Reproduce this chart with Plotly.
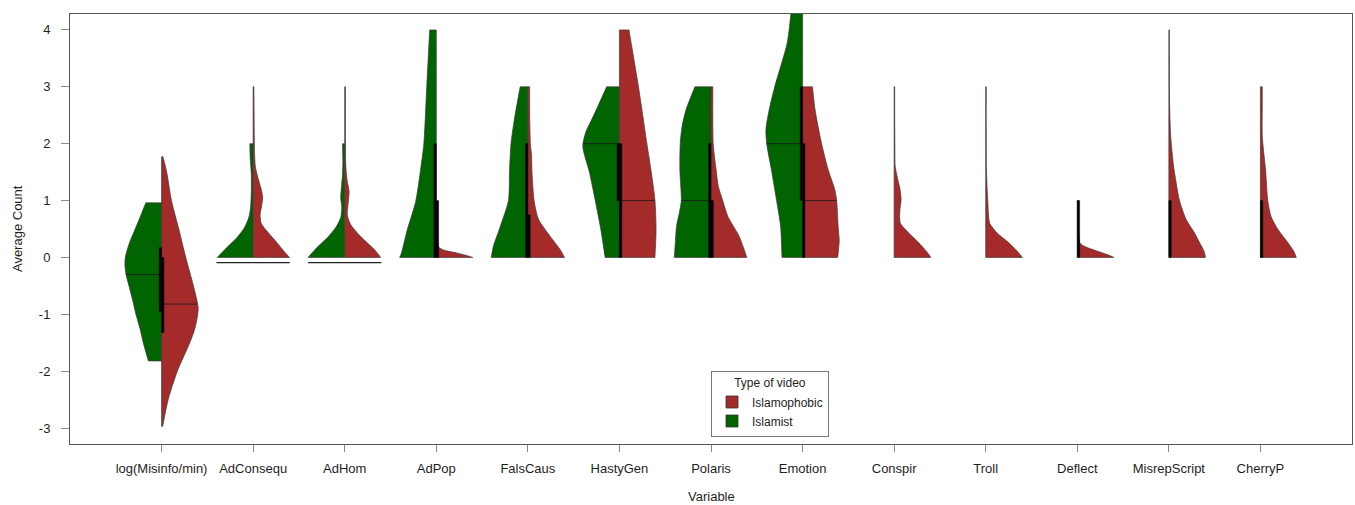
import plotly.graph_objects as go

# ---------------- data ----------------
categories = ["log(Misinfo/min)", "AdConsequ", "AdHom", "AdPop", "FalsCaus", "HastyGen",
              "Polaris", "Emotion", "Conspir", "Troll", "Deflect", "MisrepScript", "CherryP"]

# density profiles (value level, relative half-width) for the Islamist group (left halves)
islamist_levels = {
    "log(Misinfo/min)": [-1.82, -1.5, -1.25, -1.0, -0.75, -0.5, -0.3, -0.15, 0.0, 0.25, 0.5, 0.75, 0.96],
    "AdConsequ": [0, 0.18, 0.35, 0.52, 0.7, 0.88, 1.16, 1.46, 1.75, 2.0],
    "AdHom": [0, 0.18, 0.35, 0.52, 0.7, 0.88, 1.05, 1.23, 1.46, 1.69, 2.0],
    "AdPop": [0, 0.08, 0.49, 0.99, 1.54, 2.0, 3.0, 4.0],
    "FalsCaus": [0, 0.2, 0.55, 1.0, 1.54, 2.0, 2.42, 3.0],
    "HastyGen": [0, 0.5, 1.0, 1.5, 1.95, 2.2, 2.5, 3.0],
    "Polaris": [0, 0.3, 0.55, 0.8, 1.0, 1.3, 1.54, 2.0, 2.3, 2.6, 3.0],
    "Emotion": [0, 0.55, 1.0, 1.54, 2.0, 2.25, 2.6, 3.0, 3.77, 4.28, 4.5],
}
islamist_widths = {
    "log(Misinfo/min)": [0.36, 0.50, 0.59, 0.70, 0.79, 0.89, 0.97, 1.0, 0.99, 0.88, 0.72, 0.56, 0.43],
    "AdConsequ": [0.98, 0.71, 0.44, 0.24, 0.12, 0.07, 0.05, 0.05, 0.08, 0.09],
    "AdHom": [1.0, 0.75, 0.47, 0.25, 0.11, 0.08, 0.11, 0.09, 0.06, 0.05, 0.06],
    "AdPop": [1.0, 0.95, 0.79, 0.56, 0.43, 0.34, 0.26, 0.18],
    "FalsCaus": [1.0, 0.94, 0.75, 0.53, 0.50, 0.46, 0.37, 0.21],
    "HastyGen": [0.39, 0.51, 0.66, 0.82, 1.0, 0.92, 0.70, 0.35],
    "Polaris": [1.0, 0.97, 0.94, 0.86, 0.81, 0.83, 0.85, 0.84, 0.79, 0.68, 0.44],
    "Emotion": [0.56, 0.60, 0.71, 0.85, 0.98, 1.0, 0.91, 0.76, 0.42, 0.32, 0.29],
}

# density profiles for the Islamophobic group (right halves)
islamophobic_levels = {
    "log(Misinfo/min)": [-2.97, -2.5, -2.0, -1.5, -1.25, -0.9, -0.5, 0.0, 0.5, 1.0, 1.5, 1.77],
    "AdConsequ": [0, 0.11, 0.29, 0.46, 0.6, 0.75, 0.9, 1.05, 1.2, 1.4, 1.6, 1.8, 2.2, 2.6, 3.0],
    "AdHom": [0, 0.11, 0.23, 0.4, 0.58, 0.75, 0.99, 1.16, 1.34, 1.6, 2.0, 2.5, 3.0],
    "AdPop": [0, 0.04, 0.08, 0.13, 0.18, 0.3, 0.6, 1.0],
    "FalsCaus": [0, 0.14, 0.37, 0.67, 1.0, 1.54, 1.8, 2.0, 2.5, 3.0],
    "HastyGen": [0, 0.49, 1.0, 1.54, 2.0, 3.0, 4.0],
    "Polaris": [0, 0.37, 0.72, 1.0, 1.25, 1.54, 2.0, 3.0],
    "Emotion": [0, 0.3, 0.55, 1.0, 1.19, 1.54, 2.0, 2.6, 3.0],
    "Conspir": [0, 0.11, 0.26, 0.43, 0.6, 0.72, 0.85, 1.02, 1.2, 1.37, 1.6, 2.0, 2.5, 3.0],
    "Troll": [0, 0.11, 0.26, 0.43, 0.6, 0.8, 0.96, 1.19, 1.54, 2.0, 3.0],
    "Deflect": [0, 0.05, 0.11, 0.2, 0.26, 0.4, 0.6, 0.8, 1.0],
    "MisrepScript": [0, 0.11, 0.26, 0.43, 0.67, 1.0, 1.31, 1.6, 2.13, 2.72, 3.3, 4.0],
    "CherryP": [0, 0.11, 0.26, 0.5, 0.72, 1.0, 1.54, 2.13, 2.6, 3.0],
}
islamophobic_widths = {
    "log(Misinfo/min)": [0.03, 0.18, 0.43, 0.77, 0.91, 1.0, 0.87, 0.66, 0.47, 0.27, 0.14, 0.04],
    "AdConsequ": [0.99, 0.84, 0.61, 0.38, 0.22, 0.19, 0.23, 0.26, 0.22, 0.13, 0.06, 0.04, 0.03, 0.025, 0.02],
    "AdHom": [0.98, 0.85, 0.66, 0.39, 0.16, 0.07, 0.10, 0.12, 0.07, 0.03, 0.02, 0.02, 0.02],
    "AdPop": [1.0, 0.8, 0.55, 0.2, 0.07, 0.04, 0.03, 0.02],
    "FalsCaus": [1.0, 0.88, 0.61, 0.29, 0.17, 0.11, 0.10, 0.07, 0.05, 0.05],
    "HastyGen": [0.97, 1.0, 0.97, 0.86, 0.75, 0.52, 0.26],
    "Polaris": [0.98, 0.77, 0.46, 0.32, 0.20, 0.14, 0.06, 0.05],
    "Emotion": [0.96, 1.0, 0.97, 0.93, 0.88, 0.70, 0.52, 0.34, 0.27],
    "Conspir": [1.0, 0.88, 0.67, 0.40, 0.17, 0.15, 0.16, 0.19, 0.16, 0.10, 0.03, 0.02, 0.015, 0.015],
    "Troll": [1.0, 0.86, 0.63, 0.31, 0.11, 0.07, 0.06, 0.04, 0.02, 0.015, 0.015],
    "Deflect": [1.0, 0.82, 0.55, 0.18, 0.07, 0.04, 0.03, 0.03, 0.03],
    "MisrepScript": [1.0, 0.96, 0.84, 0.70, 0.47, 0.29, 0.20, 0.13, 0.05, 0.02, 0.015, 0.015],
    "CherryP": [0.98, 0.91, 0.75, 0.47, 0.29, 0.20, 0.14, 0.05, 0.05, 0.05],
}

# box statistics (q1, median, q3)
islamist_boxes = {
    "log(Misinfo/min)": (-0.95, -0.3, 0.17), "AdConsequ": (0, 0, 0), "AdHom": (0, 0, 0),
    "AdPop": (0, 0, 2), "FalsCaus": (0, 0, 2), "HastyGen": (1, 2, 2),
    "Polaris": (0, 1, 2), "Emotion": (1, 2, 3),
}
islamophobic_boxes = {
    "log(Misinfo/min)": (-1.32, -0.82, 0), "AdConsequ": (0, 0, 0), "AdHom": (0, 0, 0),
    "AdPop": (0, 0, 1), "FalsCaus": (0, 0, 0.75), "HastyGen": (0, 1, 2),
    "Polaris": (0, 0, 1), "Emotion": (0, 1, 2), "Conspir": (0, 0, 0), "Troll": (0, 0, 0),
    "Deflect": (0, 0, 1), "MisrepScript": (0, 0, 1), "CherryP": (0, 0, 1),
}

# extra horizontal marks below the violins
extra_marks = {"AdConsequ": -0.09, "AdHom": -0.09}

y_ticks = [-3, -2, -1, 0, 1, 2, 3, 4]

# ---------------- styling ----------------
GREEN = "#006400"
RED = "#A52A2A"
OUTLINE = "#3a3a3a"
HALF = 0.4      # max half-width in category units
BOXW = 0.026    # box width per group
FONT = "Liberation Sans, Arial, Helvetica, sans-serif"
TXT = "#1e1e1e"


def interp_width(levels, widths, y):
    for i in range(len(levels) - 1):
        if levels[i] <= y <= levels[i + 1]:
            t = (y - levels[i]) / (levels[i + 1] - levels[i])
            return widths[i] + t * (widths[i + 1] - widths[i])
    return widths[0] if y <= levels[0] else widths[-1]


def half_outline(c, levels, widths, side):
    """Outline vertices for one half violin; extra vertices near the corners
    keep the spline rendering tight so the corners stay sharp."""
    ymin, ymax = levels[0], levels[-1]
    span = ymax - ymin
    eps = min(0.02, span * 0.02)
    pts = [(c + side * HALF * w, lv) for lv, w in zip(levels, widths)]
    xs, ys = [], []
    xb = pts[0][0]
    for f in [0.0, 0.04, 0.5, 0.96]:
        xs.append(c + (xb - c) * f); ys.append(ymin)
    for k, (px, py) in enumerate(pts):
        xs.append(px); ys.append(py)
        if k == 0 and len(pts) > 1:
            nx, ny = pts[1]
            xs.append(px + (nx - px) * 0.04); ys.append(py + (ny - py) * 0.04)
        if k == len(pts) - 2:
            nx, ny = pts[-1]
            xs.append(px + (nx - px) * 0.96); ys.append(py + (ny - py) * 0.96)
    xt = pts[-1][0]
    for f in [0.04, 0.5, 0.96, 1.0]:
        xs.append(xt + (c - xt) * f); ys.append(ymax)
    for f in [eps / span, 0.25, 0.5, 0.75, 1 - eps / span, 1.0]:
        xs.append(c); ys.append(ymax - span * f)
    return xs, ys


fig = go.Figure()

groups = [
    ("Islamist", GREEN, -1, islamist_levels, islamist_widths, islamist_boxes),
    ("Islamophobic", RED, 1, islamophobic_levels, islamophobic_widths, islamophobic_boxes),
]

for name, color, side, lv_map, w_map, box_map in groups:
    for i, cat in enumerate(categories):
        if cat not in lv_map:
            continue
        c = i + 1
        xs, ys = half_outline(c, lv_map[cat], w_map[cat], side)
        fig.add_trace(go.Scatter(
            x=xs, y=ys, mode="lines", fill="toself", fillcolor=color,
            line=dict(color=OUTLINE, width=0.7, shape="spline", smoothing=0.7),
            showlegend=False, hoverinfo="skip"))

# median lines
for name, color, side, lv_map, w_map, box_map in groups:
    for i, cat in enumerate(categories):
        if cat not in box_map:
            continue
        c = i + 1
        q1, med, q3 = box_map[cat]
        lv, wd = lv_map[cat], w_map[cat]
        if med > lv[0]:
            w = interp_width(lv, wd, med)
            fig.add_trace(go.Scatter(
                x=[c, c + side * HALF * w], y=[med, med], mode="lines",
                line=dict(color="#1a1a1a", width=0.8), showlegend=False, hoverinfo="skip"))

# boxes
for name, color, side, lv_map, w_map, box_map in groups:
    for i, cat in enumerate(categories):
        if cat not in box_map:
            continue
        c = i + 1
        q1, med, q3 = box_map[cat]
        if q3 <= q1:
            continue
        x0, x1 = c, c + side * BOXW
        fig.add_trace(go.Scatter(
            x=[x0, x1, x1, x0, x0], y=[q1, q1, q3, q3, q1], mode="lines",
            fill="toself", fillcolor="black", line=dict(color="black", width=0.4),
            showlegend=False, hoverinfo="skip"))

# extra marks
for cat, yv in extra_marks.items():
    c = categories.index(cat) + 1
    fig.add_trace(go.Scatter(
        x=[c - HALF, c + HALF], y=[yv, yv], mode="lines",
        line=dict(color="#222", width=1.2), showlegend=False, hoverinfo="skip"))

# legend entries (square swatches)
for name, color, rank in [("Islamophobic", RED, 1), ("Islamist", GREEN, 2)]:
    fig.add_trace(go.Scatter(
        x=[None], y=[None], mode="markers", name=name, legendrank=rank,
        marker=dict(symbol="square", size=12, color=color, line=dict(color="#333", width=0.8))))

fig.update_layout(
    width=1355, height=505,
    margin=dict(l=70, r=3, t=14, b=61, autoexpand=False),
    paper_bgcolor="white", plot_bgcolor="white",
    font=dict(family=FONT, size=13, color=TXT),
    showlegend=True,
    legend=dict(
        x=0.5, y=0.17, xanchor="left", yanchor="top",
        bordercolor="#777", borderwidth=1, bgcolor="white",
        title=dict(text="Type of video", side="top center", font=dict(size=12)),
        font=dict(size=12), tracegroupgap=0, itemwidth=30,
    ),
    xaxis=dict(
        range=[0, 14], tickmode="array", tickvals=list(range(1, len(categories) + 1)),
        ticktext=categories, showgrid=False, zeroline=False, automargin=False,
        showline=True, mirror=True, linecolor="#555", linewidth=1,
        ticks="outside", ticklen=7, tickcolor="#888", ticklabelstandoff=5,
    ),
    yaxis=dict(
        range=[-3.28, 4.28], tickmode="array", tickvals=y_ticks,
        ticktext=[str(v) for v in y_ticks], showgrid=False, zeroline=False, automargin=False,
        showline=True, mirror=True, linecolor="#555", linewidth=1,
        ticks="outside", ticklen=8, tickcolor="#888", ticklabelstandoff=8,
    ),
    annotations=[
        dict(text="Average Count", xref="paper", yref="paper", x=-0.0413, y=0.5,
             textangle=-90, showarrow=False, font=dict(size=13, color=TXT),
             xanchor="center", yanchor="middle"),
        dict(text="Variable", xref="paper", yref="paper", x=0.5, y=-0.121,
             showarrow=False, font=dict(size=13, color=TXT),
             xanchor="center", yanchor="middle"),
    ],
)

fig.write_html(
    "out.html",
    config={"displayModeBar": False},
    post_script="document.body.style.margin='0';document.body.style.overflow='hidden';",
)
